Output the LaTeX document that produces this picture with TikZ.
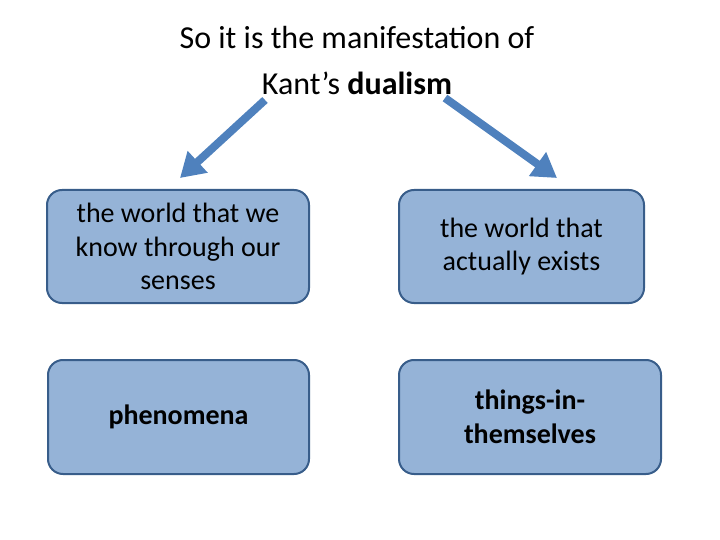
\documentclass[tikz,border=0pt]{standalone}
\usepackage{fontspec}
\setmainfont{Carlito}
\usetikzlibrary{arrows.meta}
\definecolor{boxfill}{HTML}{95B3D7}
\definecolor{boxline}{HTML}{385D8A}
\definecolor{arrowblue}{HTML}{4F81BD}
\tikzset{
  worldbox/.style={draw=boxline, line width=2pt, fill=boxfill, rounded corners=15pt,
    align=center, font=\fontsize{28}{33.5}\selectfont, inner sep=0pt},
  bigarrow/.style={arrowblue, line width=8pt, -{Triangle[width=28pt,length=24pt]}}
}
\begin{document}
\begin{tikzpicture}[x=1pt,y=-1pt]
  %%%%% FRAME %%%%%
  \useasboundingbox (0,0) rectangle (720,540);

  \node[align=center, font=\fontsize{32}{46}\selectfont] (title) at (357,61)
    {So it is the manifestation of\\Kant's \textbf{dualism}};

  \node[worldbox, minimum width=262pt, minimum height=113pt] (senses) at (178,246.5)
    {the world that we\\know through our\\senses};
  \node[worldbox, minimum width=245pt, minimum height=113pt] (exists) at (521.5,246.5)
    {the world that\\actually exists};
  \node[worldbox, minimum width=261pt, minimum height=114pt] (phen) at (178.5,417)
    {\textbf{phenomena}};
  \node[worldbox, minimum width=262pt, minimum height=114pt] (things) at (530,417)
    {\textbf{things-in-}\\\textbf{themselves}};

  %%%%% ARROWS %%%%%
  \coordinate (leftstart) at (265,100);
  \coordinate (leftend) at (180,178);
  \coordinate (rightstart) at (445,98);
  \coordinate (rightend) at (557,178);
  \draw[bigarrow] (leftstart) -- (leftend);
  \draw[bigarrow] (rightstart) -- (rightend);
\end{tikzpicture}
\end{document}
